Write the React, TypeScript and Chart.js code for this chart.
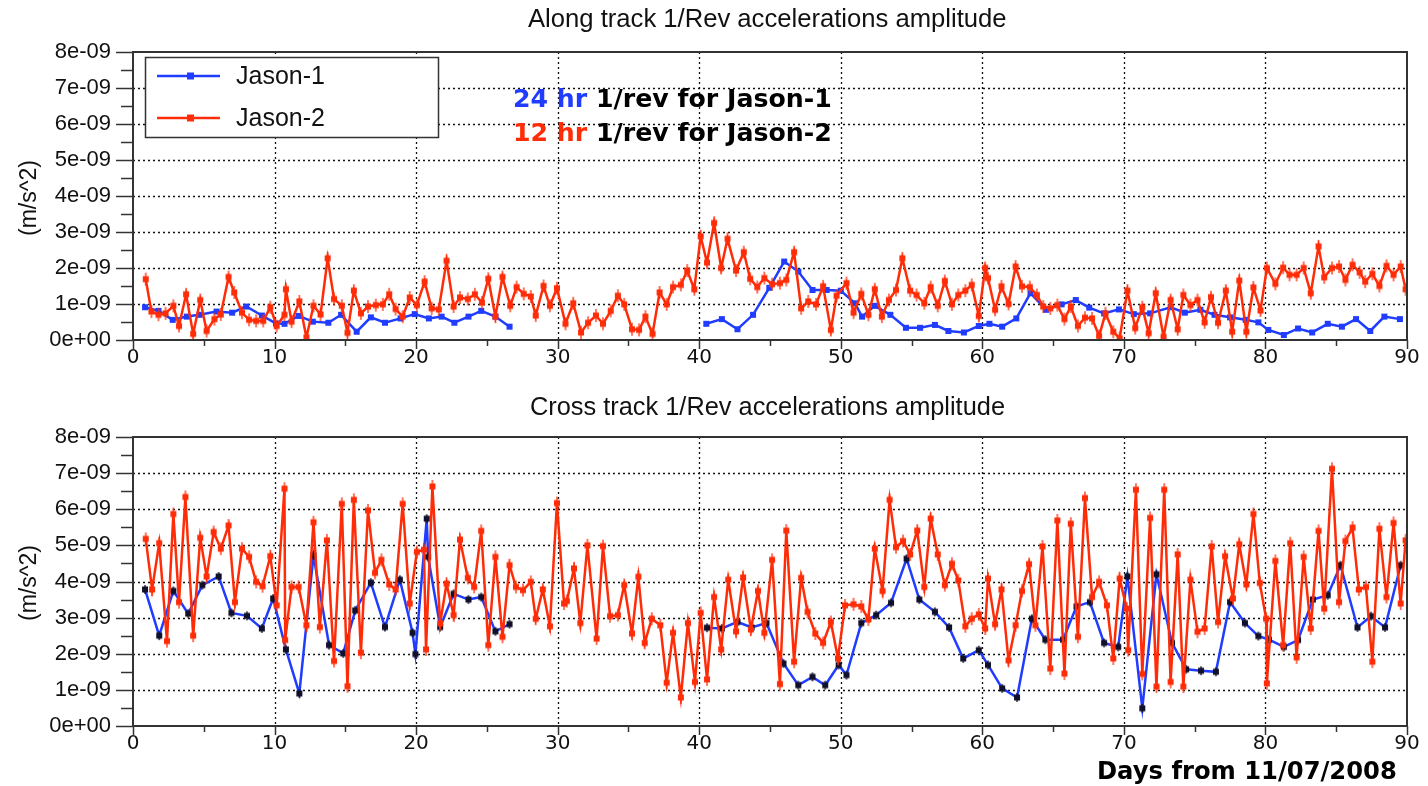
import React, { useEffect, useRef } from 'react';
import { Chart, registerables } from 'chart.js';
Chart.register(...registerables);

// ---------- DATA (values in units of 1e-09 m/s^2, x in days from 11/07/2008) ----------
const X_TICKS = [0, 10, 20, 30, 40, 50, 60, 70, 80, 90];
const Y_TICKS = [0, 1, 2, 3, 4, 5, 6, 7, 8];

const ALONG_J2_DAYS = [0.9,1.3,1.8,2.3,2.85,3.25,3.75,4.25,4.75,5.2,5.75,6.2,6.75,7.15,7.7,8.2,8.7,9.2,9.7,10.15,10.7,10.8,11.2,11.75,12.25,12.75,13.25,13.75,14.2,14.75,15.15,15.6,16.1,16.6,17.15,17.65,18.1,18.55,19.05,19.55,20.05,20.6,21.1,21.6,22.15,22.65,23.1,23.65,24.15,24.65,25.1,25.6,26.1,26.65,27.1,27.6,28.1,28.45,29.0,29.45,29.95,30.55,31.1,31.65,32.15,32.7,33.2,33.75,34.25,34.7,35.25,35.75,36.2,36.7,37.2,37.7,38.15,38.7,39.15,39.65,40.1,40.55,41.05,41.55,42.0,42.6,43.15,43.6,44.1,44.6,45.15,45.7,46.15,46.7,47.2,47.7,48.25,48.75,49.3,49.7,50.4,50.9,51.45,51.95,52.4,52.9,53.4,53.9,54.35,54.9,55.35,55.9,56.35,56.85,57.35,57.85,58.3,58.8,59.25,59.75,60.2,60.4,60.9,61.35,61.85,62.35,62.8,63.35,63.85,64.3,64.8,65.3,65.8,66.25,66.75,67.25,67.75,68.25,68.7,69.25,69.7,70.25,70.8,71.3,71.75,72.25,72.8,73.3,73.8,74.2,74.7,75.2,75.7,76.15,76.65,77.2,77.65,78.15,78.65,79.15,79.65,80.1,80.7,81.25,81.7,82.2,82.7,83.2,83.75,84.15,84.7,85.2,85.65,86.15,86.65,87.05,87.55,88.05,88.55,89.05,89.55,89.9];
const ALONG_J2 = [1.69,0.79,0.70,0.74,0.95,0.39,1.27,0.17,1.11,0.25,0.58,0.71,1.75,1.32,0.76,0.56,0.53,0.53,0.91,0.39,0.70,1.41,0.51,1.07,0.07,0.95,0.71,2.27,1.14,0.95,0.20,1.37,0.74,0.93,0.97,0.99,1.27,0.86,0.65,1.18,0.97,1.62,0.88,0.85,2.2,0.93,1.18,1.14,1.27,1.04,1.70,0.65,1.75,0.95,1.47,1.28,1.21,0.68,1.50,0.95,1.44,0.45,1.02,0.21,0.48,0.68,0.45,0.81,1.23,0.99,0.30,0.28,0.65,0.17,1.32,0.99,1.47,1.53,1.93,1.41,2.88,2.15,3.25,2.0,2.81,1.93,2.44,1.70,1.47,1.72,1.55,1.58,1.67,2.44,0.88,1.07,0.99,1.49,0.28,1.23,1.58,0.76,1.28,0.70,1.41,0.65,1.11,1.39,2.27,1.37,1.25,1.02,1.47,0.95,1.64,0.99,1.25,1.37,1.53,0.67,2.0,1.72,0.84,1.49,1.0,2.04,1.49,1.47,1.25,0.93,0.88,0.97,0.58,0.93,0.39,0.62,0.60,0.11,0.74,0.23,0.05,1.37,0.33,0.91,0.19,1.30,0.09,1.11,0.30,1.25,0.97,1.11,0.49,1.19,0.48,1.37,0.23,1.65,0.23,1.46,0.82,2.0,1.56,2.01,1.81,1.81,2.0,1.30,2.6,1.74,2.0,2.04,1.67,2.09,1.88,1.62,1.84,1.5,2.06,1.81,2.04,1.41];

const ALONG_J1_DAYS = [0.85,1.8,2.8,3.8,4.7,5.9,7.0,8.0,9.1,10.1,10.7,11.7,12.7,13.8,14.7,15.8,16.8,17.8,18.9,19.9,20.9,21.8,22.7,23.7,24.6,25.6,26.6,40.5,41.6,42.7,43.8,44.95,46.0,47.0,48.0,49.0,50.0,51.0,51.5,52.4,53.5,54.6,55.6,56.65,57.6,58.7,59.75,60.5,61.4,62.4,63.4,64.5,65.6,66.6,67.55,68.6,69.65,70.7,71.85,73.3,74.3,75.4,76.4,77.5,78.6,79.5,80.2,81.3,82.3,83.3,84.4,85.4,86.4,87.4,88.4,89.5];
const ALONG_J1 = [0.91,0.81,0.56,0.65,0.70,0.79,0.76,0.93,0.68,0.46,0.45,0.67,0.51,0.48,0.70,0.23,0.63,0.48,0.60,0.72,0.60,0.65,0.48,0.65,0.81,0.65,0.37,0.45,0.58,0.30,0.70,1.45,2.18,1.90,1.39,1.39,1.37,1.02,0.65,0.95,0.70,0.34,0.34,0.42,0.25,0.21,0.39,0.45,0.37,0.60,1.30,0.84,0.99,1.11,0.90,0.74,0.85,0.72,0.74,0.91,0.76,0.84,0.70,0.63,0.56,0.49,0.28,0.14,0.32,0.21,0.45,0.37,0.58,0.25,0.65,0.58];

const CROSS_J2_DAYS = [0.9,1.35,1.85,2.4,2.85,3.25,3.7,4.25,4.75,5.2,5.7,6.2,6.75,7.2,7.7,8.2,8.7,9.15,9.7,10.15,10.7,10.75,11.2,11.7,12.25,12.75,13.2,13.7,14.2,14.75,15.15,15.6,16.1,16.6,17.1,17.55,18.1,18.55,19.05,19.55,20.05,20.55,20.7,21.15,21.7,22.15,22.65,23.1,23.65,24.1,24.6,25.1,25.6,26.1,26.6,27.05,27.55,28.1,28.45,28.95,29.45,29.95,30.45,30.65,31.15,31.6,32.1,32.75,33.2,33.7,34.25,34.7,35.25,35.7,36.15,36.65,37.25,37.7,38.15,38.7,39.2,39.7,40.1,40.55,41.05,41.55,42.05,42.6,43.1,43.65,44.15,44.6,45.15,45.7,46.15,46.7,47.2,47.65,48.2,48.75,49.3,49.8,50.3,50.9,51.45,51.95,52.4,52.95,53.45,53.9,54.4,54.9,55.4,55.9,56.35,56.85,57.35,57.85,58.3,58.8,59.25,59.75,60.2,60.4,60.9,61.35,61.85,62.35,62.8,63.3,63.75,64.25,64.8,65.3,65.8,66.25,66.75,67.25,67.75,68.25,68.8,69.25,69.7,70.2,70.3,70.85,71.3,71.85,72.3,72.85,73.3,73.8,74.2,74.7,75.2,75.7,76.2,76.65,77.15,77.7,78.15,78.65,79.15,79.6,80.05,80.1,80.7,81.25,81.75,82.2,82.7,83.2,83.75,84.15,84.7,85.2,85.65,86.15,86.6,87.1,87.55,88.05,88.55,89.05,89.55,89.9];
const CROSS_J2 = [5.18,3.78,5.06,2.35,5.87,3.43,6.34,2.50,5.21,4.14,5.37,4.91,5.55,3.43,4.91,4.68,3.99,3.87,4.70,3.34,6.57,2.38,3.85,3.85,2.79,5.64,2.74,5.14,1.80,6.15,1.10,6.26,2.03,5.97,4.24,4.60,3.92,3.78,6.15,3.39,4.82,4.88,2.12,6.63,2.84,3.94,3.07,5.16,4.10,3.85,5.40,2.24,4.68,2.47,4.45,3.85,3.76,3.99,2.97,3.78,2.76,6.17,3.39,3.46,4.36,2.85,5.0,2.42,4.98,3.04,3.07,3.90,2.56,4.13,2.30,2.97,2.79,1.20,2.58,0.79,2.85,1.22,3.13,1.29,3.57,2.12,4.05,2.62,4.11,2.67,3.74,2.58,4.60,1.16,5.41,1.78,4.10,3.16,2.56,2.30,2.88,1.87,3.34,3.37,3.31,2.95,4.91,3.74,6.26,4.95,5.12,4.75,5.41,3.85,5.74,4.75,3.90,4.49,4.03,2.76,2.97,3.09,2.70,4.08,2.82,3.78,1.82,2.79,3.74,4.48,2.79,4.97,1.59,5.69,1.45,5.60,2.47,6.31,3.57,3.99,3.34,1.87,4.08,3.25,2.10,6.54,1.44,5.76,1.09,6.54,1.22,4.75,1.09,4.05,2.61,2.70,4.97,2.88,4.70,3.53,5.03,3.92,5.87,3.96,2.97,1.18,4.57,2.24,5.06,1.90,4.68,2.70,5.40,3.25,7.12,3.43,5.12,5.49,3.78,3.85,1.78,5.46,3.57,5.62,3.39,5.14];

const CROSS_J1_DAYS = [0.85,1.85,2.85,3.9,4.9,6.05,6.95,8.05,9.1,9.9,10.8,11.75,12.75,13.85,14.85,15.7,16.8,17.8,18.85,19.75,19.95,20.75,20.85,21.7,22.65,23.7,24.6,25.6,26.6,40.55,41.6,42.7,43.7,44.75,45.95,47.0,48.0,48.9,49.85,50.4,51.45,52.5,53.55,54.65,55.55,56.65,57.65,58.65,59.75,60.4,61.4,62.45,63.5,64.45,65.7,66.65,67.6,68.6,69.6,70.25,71.3,72.3,73.4,74.4,75.45,76.5,77.5,78.55,79.5,80.25,81.3,82.3,83.35,84.4,85.3,86.5,87.45,88.45,89.55];
const CROSS_J1 = [3.78,2.50,3.74,3.11,3.90,4.14,3.13,3.05,2.70,3.53,2.12,0.90,4.72,2.24,2.01,3.20,3.97,2.74,4.05,2.58,1.99,5.74,4.68,2.74,3.66,3.50,3.57,2.62,2.82,2.72,2.70,2.88,2.73,2.85,1.73,1.13,1.36,1.13,1.69,1.41,2.85,3.07,3.41,4.63,3.50,3.16,2.73,1.87,2.10,1.69,1.04,0.79,2.97,2.39,2.39,3.31,3.43,2.30,2.19,4.14,0.49,4.20,2.30,1.57,1.53,1.50,3.43,2.85,2.49,2.39,2.19,2.38,3.50,3.62,4.45,2.73,3.04,2.73,4.45];

// ---------- STYLE ----------
const W = 1428;
const PANEL_H = 393;
const BLUE = '#1f3cff';
const RED = '#ff2c08';
const DARK = '#333';
const SANS = '"Liberation Sans", Arial, sans-serif';
const ROUND = '"DejaVu Sans", sans-serif';

function makeMarker(fill: string, size: number, whisker: number, whiskerColor: string) {
  const h = Math.max(size, whisker) + 2;
  const w = size + 2;
  const c = document.createElement('canvas');
  c.width = w;
  c.height = h;
  const ctx = c.getContext('2d')!;
  if (whisker > 0) {
    ctx.strokeStyle = whiskerColor;
    ctx.lineWidth = 1.3;
    ctx.beginPath();
    ctx.moveTo(w / 2, 1);
    ctx.lineTo(w / 2, h - 1);
    ctx.stroke();
  }
  ctx.fillStyle = fill;
  ctx.fillRect((w - size) / 2, (h - size) / 2, size, size);
  return c;
}

function fitSize(ctx: CanvasRenderingContext2D, text: string, weight: string, family: string, width: number) {
  ctx.font = `${weight} 100px ${family}`;
  return (100 * width) / ctx.measureText(text).width;
}

type PanelCfg = {
  title: string;
  titleY: number;
  titleX0: number;
  titleX1: number;
  areaTop: number;
  areaBottom: number;
  ylabelY: number;
  j1Days: number[];
  j1: number[];
  j2Days: number[];
  j2: number[];
  j1Marker: string;
  j1Whisker: number;
  legend: boolean;
  note: boolean;
  xlabel: boolean;
};

function decoPlugin(cfg: PanelCfg) {
  return {
    id: 'deco',
    beforeDatasetsDraw(chart: any) {
      const { ctx, chartArea: a, scales } = chart;
      const x = scales.x, y = scales.y;
      ctx.save();
      ctx.strokeStyle = '#111';
      ctx.lineWidth = 1.3;
      ctx.setLineDash([2, 3]);
      Y_TICKS.forEach((v) => {
        if (v <= 0 || v >= 8) return;
        const py = Math.round(y.getPixelForValue(v)) + 0.5;
        ctx.beginPath();
        ctx.moveTo(a.left, py);
        ctx.lineTo(a.right, py);
        ctx.stroke();
      });
      X_TICKS.forEach((d) => {
        if (d <= 0 || d >= 90) return;
        const px = Math.round(x.getPixelForValue(d)) + 0.5;
        ctx.beginPath();
        ctx.moveTo(px, a.top);
        ctx.lineTo(px, a.bottom);
        ctx.stroke();
      });
      ctx.restore();
    },
    afterDatasetsDraw(chart: any) {
      const { ctx, chartArea: a, scales } = chart;
      const x = scales.x, y = scales.y;
      ctx.save();
      // frame
      ctx.strokeStyle = DARK;
      ctx.lineWidth = 2;
      ctx.strokeRect(a.left, a.top, a.right - a.left, a.bottom - a.top);
      // y ticks (major + minor)
      ctx.lineWidth = 1.5;
      for (let i = 0; i < Y_TICKS.length; i++) {
        const v = Y_TICKS[i];
        const py = Math.round(y.getPixelForValue(v)) + 0.5;
        ctx.beginPath();
        ctx.moveTo(a.left - 17, py);
        ctx.lineTo(a.left, py);
        ctx.stroke();
        if (i < Y_TICKS.length - 1) {
          const pm = Math.round(y.getPixelForValue((v + Y_TICKS[i + 1]) / 2)) + 0.5;
          ctx.beginPath();
          ctx.moveTo(a.left - 12, pm);
          ctx.lineTo(a.left, pm);
          ctx.stroke();
        }
      }
      // x ticks (major + minor)
      for (let i = 0; i < X_TICKS.length; i++) {
        const d = X_TICKS[i];
        const px = Math.round(x.getPixelForValue(d)) + 0.5;
        ctx.beginPath();
        ctx.moveTo(px, a.bottom);
        ctx.lineTo(px, a.bottom + 9);
        ctx.stroke();
        if (i < X_TICKS.length - 1) {
          const pm = Math.round(x.getPixelForValue((d + X_TICKS[i + 1]) / 2)) + 0.5;
          ctx.beginPath();
          ctx.moveTo(pm, a.bottom);
          ctx.lineTo(pm, a.bottom + 6);
          ctx.stroke();
        }
      }
      // title
      ctx.fillStyle = '#111';
      ctx.textBaseline = 'middle';
      ctx.textAlign = 'left';
      const ts = fitSize(ctx, cfg.title, 'normal', SANS, cfg.titleX1 - cfg.titleX0);
      ctx.font = `normal ${ts}px ${SANS}`;
      ctx.fillText(cfg.title, cfg.titleX0, cfg.titleY);
      // y label
      ctx.save();
      ctx.translate(30, cfg.ylabelY);
      ctx.rotate(-Math.PI / 2);
      ctx.textAlign = 'center';
      ctx.font = `normal 23px ${SANS}`;
      ctx.fillText('(m/s^2)', 0, 0);
      ctx.restore();
      // legend
      if (cfg.legend) {
        const lx0 = 145, ly0 = 57, lx1 = 438, ly1 = 137;
        ctx.fillStyle = '#fff';
        ctx.fillRect(lx0, ly0, lx1 - lx0, ly1 - ly0);
        ctx.strokeStyle = DARK;
        ctx.lineWidth = 1.5;
        ctx.strokeRect(lx0 + 0.5, ly0 + 0.5, lx1 - lx0, ly1 - ly0);
        const entries = [
          { label: 'Jason-1', color: BLUE, yy: 76 },
          { label: 'Jason-2', color: RED, yy: 118 },
        ];
        entries.forEach((e) => {
          ctx.strokeStyle = e.color;
          ctx.lineWidth = 2.5;
          ctx.beginPath();
          ctx.moveTo(157, e.yy);
          ctx.lineTo(220, e.yy);
          ctx.stroke();
          ctx.fillStyle = e.color;
          ctx.fillRect(187, e.yy - 3.5, 7, 7);
          ctx.fillStyle = '#111';
          ctx.font = `normal 25px ${SANS}`;
          ctx.textAlign = 'left';
          ctx.fillText(e.label, 236, e.yy + 1);
        });
      }
      // note
      if (cfg.note) {
        const lines = [
          { a: '24 hr', b: ' 1/rev for Jason-1', color: BLUE, yy: 100 },
          { a: '12 hr', b: ' 1/rev for Jason-2', color: RED, yy: 134 },
        ];
        lines.forEach((l) => {
          const s = fitSize(ctx, l.a + l.b, 'bold', ROUND, 319);
          ctx.font = `bold ${s}px ${ROUND}`;
          ctx.textAlign = 'left';
          ctx.fillStyle = l.color;
          ctx.fillText(l.a, 513, l.yy);
          const wa = ctx.measureText(l.a).width;
          ctx.fillStyle = '#000';
          ctx.fillText(l.b, 513 + wa, l.yy);
        });
      }
      if (cfg.xlabel) {
        const t = 'Days from 11/07/2008';
        const s = fitSize(ctx, t, 'bold', ROUND, 300);
        ctx.font = `bold ${s}px ${ROUND}`;
        ctx.textAlign = 'left';
        ctx.fillStyle = '#000';
        ctx.fillText(t, 1097, 380);
      }
      ctx.restore();
    },
  };
}

function makeChart(canvas: HTMLCanvasElement, cfg: PanelCfg) {
  const redMarker = makeMarker(RED, 6, 13, RED);
  const blueMarker = makeMarker(cfg.j1Marker, 6, cfg.j1Whisker, cfg.j1Marker);
  return new Chart(canvas, {
    type: 'line',
    data: {
      datasets: [
        {
          label: 'Jason-2',
          data: cfg.j2Days.map((d, i) => ({ x: d, y: cfg.j2[i] })),
          borderColor: RED,
          backgroundColor: RED,
          borderWidth: 2.5,
          pointStyle: redMarker as any,
          pointRadius: 4,
          tension: 0,
          order: 0,
        },
        {
          label: 'Jason-1',
          data: cfg.j1Days.map((d, i) => ({ x: d, y: cfg.j1[i] })),
          borderColor: BLUE,
          backgroundColor: BLUE,
          borderWidth: 2.5,
          pointStyle: blueMarker as any,
          pointRadius: 4,
          tension: 0,
          order: 1,
          segment: {
            borderColor: (c: any) => (c.p1.parsed.x - c.p0.parsed.x > 5 ? 'rgba(0,0,0,0)' : BLUE),
          },
        },
      ],
    },
    options: {
      animation: false,
      responsive: false,
      events: [],
      layout: { padding: { left: 0, right: 21, top: cfg.areaTop, bottom: 0 } },
      plugins: { legend: { display: false }, tooltip: { enabled: false }, title: { display: false } },
      scales: {
        x: {
          type: 'linear',
          min: 0,
          max: 90,
          afterBuildTicks: (s: any) => {
            s.ticks = X_TICKS.map((v) => ({ value: v }));
          },
          ticks: {
            padding: 6,
            color: '#111',
            font: { family: ROUND, size: 20 },
            maxRotation: 0,
            autoSkip: false,
            callback: (v: any) => String(v),
          },
          grid: { display: false, drawTicks: false },
          border: { display: false },
          afterFit: (s: any) => {
            s.height = PANEL_H - cfg.areaBottom;
          },
        },
        y: {
          type: 'linear',
          min: 0,
          max: 8,
          afterBuildTicks: (s: any) => {
            s.ticks = Y_TICKS.map((v) => ({ value: v }));
          },
          ticks: {
            padding: 22,
            color: '#111',
            font: { family: SANS, size: 22 },
            callback: (v: any) => (Number(v) === 0 ? '0e+00' : `${v}e-09`),
          },
          grid: { display: false, drawTicks: false },
          border: { display: false },
          afterFit: (s: any) => {
            s.width = 133;
          },
        },
      },
    } as any,
    plugins: [decoPlugin(cfg)],
  });
}

export default function App() {
  const topRef = useRef<HTMLCanvasElement>(null);
  const botRef = useRef<HTMLCanvasElement>(null);

  useEffect(() => {
    const c1 = makeChart(topRef.current!, {
      title: 'Along track 1/Rev accelerations amplitude',
      titleY: 20,
      titleX0: 528,
      titleX1: 1007,
      areaTop: 52,
      areaBottom: 340,
      ylabelY: 198,
      j1Days: ALONG_J1_DAYS,
      j1: ALONG_J1,
      j2Days: ALONG_J2_DAYS,
      j2: ALONG_J2,
      j1Marker: BLUE,
      j1Whisker: 0,
      legend: true,
      note: true,
      xlabel: false,
    });
    const c2 = makeChart(botRef.current!, {
      title: 'Cross track 1/Rev accelerations amplitude',
      titleY: 15,
      titleX0: 530,
      titleX1: 1005,
      areaTop: 44,
      areaBottom: 333,
      ylabelY: 190,
      j1Days: CROSS_J1_DAYS,
      j1: CROSS_J1,
      j2Days: CROSS_J2_DAYS,
      j2: CROSS_J2,
      j1Marker: '#10102a',
      j1Whisker: 9,
      legend: false,
      note: false,
      xlabel: true,
    });
    return () => {
      c1.destroy();
      c2.destroy();
    };
  }, []);

  return (
    <div style={{ position: 'absolute', left: 0, top: 0, width: W, height: PANEL_H * 2, background: '#fff' }}>
      <canvas ref={topRef} width={W} height={PANEL_H} style={{ display: 'block', width: W, height: PANEL_H }} />
      <canvas ref={botRef} width={W} height={PANEL_H} style={{ display: 'block', width: W, height: PANEL_H }} />
    </div>
  );
}
